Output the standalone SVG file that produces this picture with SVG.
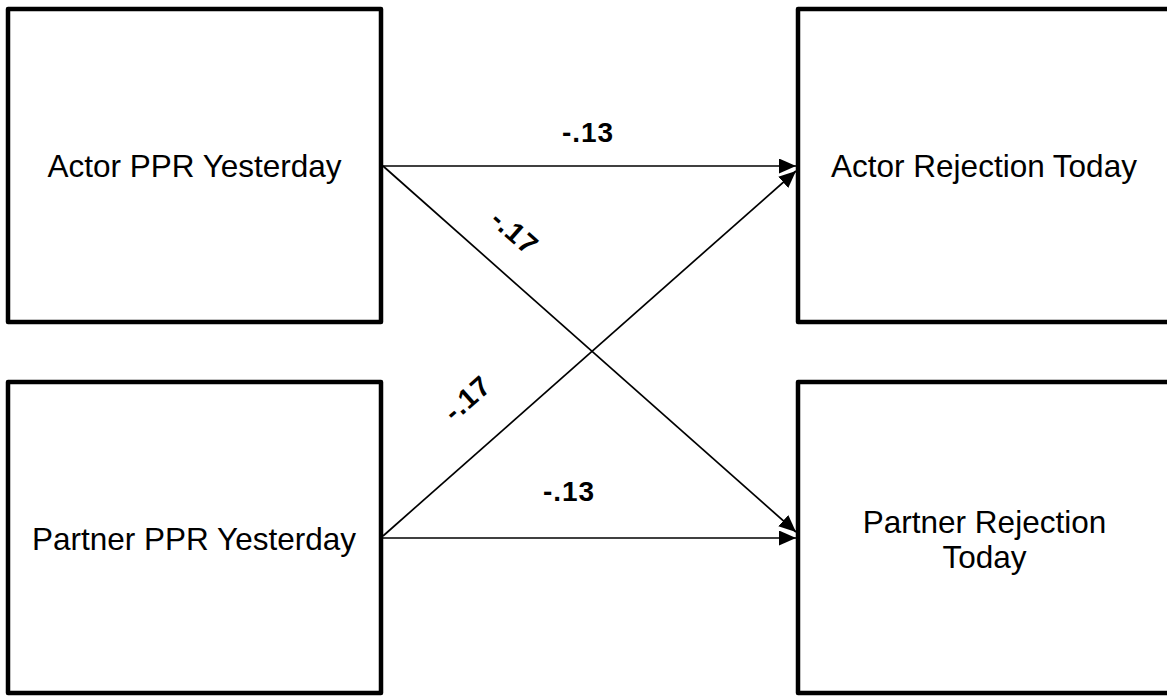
<svg xmlns="http://www.w3.org/2000/svg" width="1167" height="696" viewBox="0 0 1167 696">
  <style>
    .box { fill: #ffffff; stroke: #000000; stroke-width: 4.5; stroke-linejoin: round; }
    .name { font-family: "Liberation Sans", Arial, sans-serif; font-size: 31.5px; fill: #000000; text-anchor: middle; }
    .coef { font-family: "Liberation Sans", Arial, sans-serif; font-size: 28px; font-weight: bold; fill: #000000; text-anchor: middle; letter-spacing: 1px; }
    .path { fill: none; stroke: #000000; stroke-width: 1.7; marker-end: url(#head); }
  </style>
  <defs>
    <marker id="head" markerUnits="userSpaceOnUse" markerWidth="18" markerHeight="16" refX="17" refY="7.5" orient="auto">
      <path d="M0,0 L17,7.5 L0,15 Z" fill="#000000"/>
    </marker>
  </defs>
  <rect width="1167" height="696" fill="#ffffff"/>

  <g id="actor-ppr-yesterday">
    <rect class="box" x="8" y="9" width="373" height="313"/>
    <text class="name" x="194.5" y="177">Actor PPR Yesterday</text>
  </g>

  <g id="actor-rejection-today">
    <rect class="box" x="798" y="9" width="373" height="313"/>
    <text class="name" x="984" y="177">Actor Rejection Today</text>
  </g>

  <g id="partner-ppr-yesterday">
    <rect class="box" x="8" y="382" width="373" height="311"/>
    <text class="name" x="194" y="550">Partner PPR Yesterday</text>
  </g>

  <g id="partner-rejection-today">
    <rect class="box" x="798" y="382" width="373" height="311"/>
    <text class="name" x="984.5" y="533">Partner Rejection</text>
    <text class="name" x="984.5" y="568">Today</text>
  </g>

  <g id="connectors">
    <line class="path" x1="383" y1="166" x2="796" y2="166"/>
    <line class="path" x1="383" y1="166" x2="796" y2="532"/>
    <line class="path" x1="383" y1="536" x2="796" y2="171"/>
    <line class="path" x1="383" y1="538" x2="796" y2="538"/>
    <text class="coef" x="588" y="142">-.13</text>
    <text class="coef" x="569" y="501">-.13</text>
    <text class="coef" transform="translate(515 232) rotate(41.5)" x="0" y="10">-.17</text>
    <text class="coef" transform="translate(467 398) rotate(-41.5)" x="0" y="10">-.17</text>
  </g>
</svg>
